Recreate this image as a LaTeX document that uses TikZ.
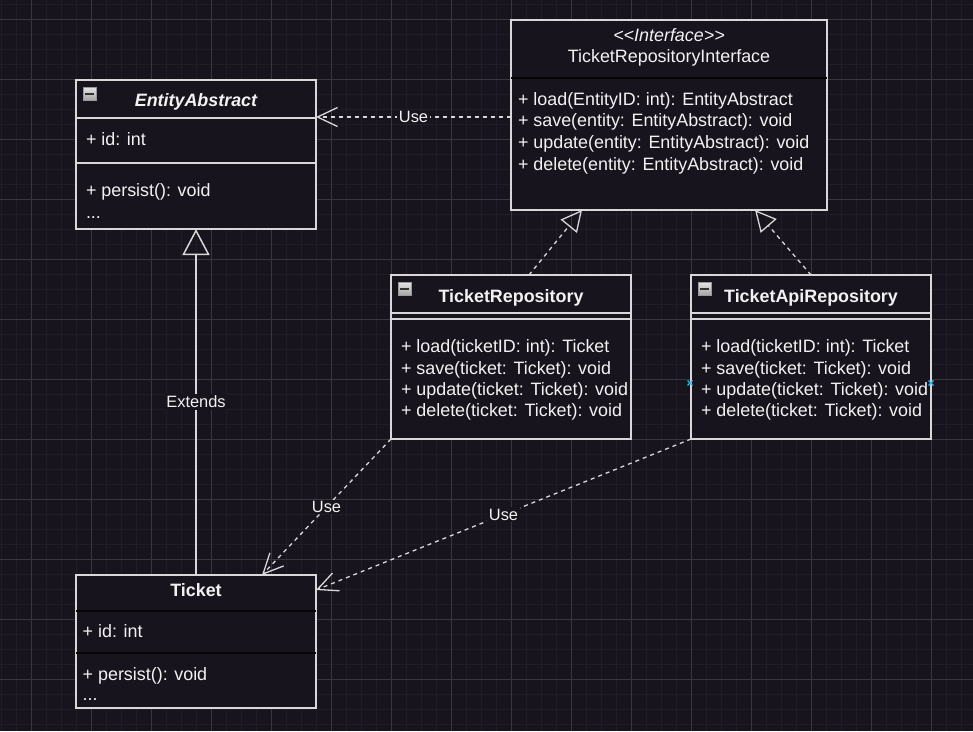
\documentclass[tikz,border=0pt]{standalone}
\usepackage{fontspec}
\setmainfont{Liberation Sans}
\usetikzlibrary{arrows.meta}
\definecolor{bg}{HTML}{18141D}
\definecolor{gridminor}{HTML}{211D26}
\definecolor{gridmajor}{HTML}{3A3640}
\definecolor{fg}{HTML}{F2F2F2}
\definecolor{ln}{HTML}{D8D8D8}
\definecolor{sepdark}{HTML}{050505}
\definecolor{sel}{HTML}{29B6F2}
\begin{document}
\begin{tikzpicture}[x=1pt,y=-1pt,
  every node/.style={font=\fontsize{17.9}{21}\selectfont, text=fg, inner sep=0pt, outer sep=0pt},
  classbox/.style={draw=ln, line width=1.5pt, fill=bg, anchor=north west},
  ctitle/.style={anchor=base, font=\fontsize{17.9}{21}\selectfont\bfseries},
  member/.style={anchor=base west},
  lightsep/.style={draw=ln, line width=1.5pt},
  darksep/.style={draw=sepdark, line width=2pt},
  elabel/.style={fill=bg, inner sep=1.5pt, font=\fontsize{16.4}{19}\selectfont},
  usearrow/.style={draw=ln, line width=1.3pt, dash pattern=on 4pt off 4pt,
    -{Straight Barb[length=20pt,width=19pt,line width=1.3pt]}},
  realize/.style={draw=ln, line width=1.3pt, dash pattern=on 4pt off 4pt,
    -{Triangle[open,length=21pt,width=21pt,line width=1.3pt]}},
  extends/.style={draw=ln, line width=1.5pt,
    -{Triangle[open,length=26pt,width=27pt,line width=1.5pt]}},
  minusicon/.style={draw=gray!80, line width=0.6pt, top color=gray!20, bottom color=gray!70}
]
% background and grid
\fill[bg] (0,0) rectangle (973,731);
\useasboundingbox (0,0) rectangle (973,731);
\foreach \i in {0,...,64} {\draw[gridminor, line width=1pt] ({1+15*\i},0) -- ({1+15*\i},731);}
\foreach \i in {0,...,48} {\draw[gridminor, line width=1pt] (0,{4+15*\i}) -- (973,{4+15*\i});}
\foreach \i in {0,...,15} {\draw[gridmajor, line width=1pt] ({31+60*\i},0) -- ({31+60*\i},731);}
\foreach \i in {0,...,11} {\draw[gridmajor, line width=1pt] (0,{19+60*\i}) -- (973,{19+60*\i});}

% ---- EntityAbstract
\node[classbox, minimum width=240pt, minimum height=149pt] (ea) at (76,80) {};
\draw[lightsep] ([yshift=-38pt]ea.north west) -- ([yshift=-38pt]ea.north east);
\draw[lightsep] ([yshift=-83pt]ea.north west) -- ([yshift=-83pt]ea.north east);
\shade[minusicon] (83,87) rectangle (96,100);
\fill[black!80] (85,92.5) rectangle (94,95);
\node[ctitle] (eaT) at (196,106.7) {\itshape EntityAbstract};
\node[member] (eaA) at (86,145.7) {+ id: int};
\node[member] (eaM) at (86,196.7) {+ persist(): void};
\node[member] (eaD) at (86,218) {...};

% ---- TicketRepositoryInterface
\node[classbox, minimum width=316pt, minimum height=190pt] (ir) at (511,20) {};
\draw[darksep] ([yshift=-58pt]ir.north west) -- ([yshift=-58pt]ir.north east);
\node[anchor=base] (irS) at (669,41.7) {\itshape {<}{<}Interface{>}{>}};
\node[anchor=base] (irT) at (669,62.7) {TicketRepositoryInterface};
\node[member] (ir1) at (518,105) {+ load(EntityID: int): EntityAbstract};
\node[member] (ir2) at (518,126) {+ save(entity: EntityAbstract): void};
\node[member] (ir3) at (518,148.3) {+ update(entity: EntityAbstract): void};
\node[member] (ir4) at (518,170) {+ delete(entity: EntityAbstract): void};

% ---- TicketRepository
\node[classbox, minimum width=240pt, minimum height=164pt] (tr) at (391,275) {};
\draw[lightsep] ([yshift=-38pt]tr.north west) -- ([yshift=-38pt]tr.north east);
\draw[lightsep] ([yshift=-44pt]tr.north west) -- ([yshift=-44pt]tr.north east);
\shade[minusicon] (398,282) rectangle (411,295);
\fill[black!80] (400,287.5) rectangle (409,290);
\node[ctitle] (trT) at (511,302.3) {TicketRepository};
\node[member] (tr1) at (401,352.7) {+ load(ticketID: int): Ticket};
\node[member] (tr2) at (401,374) {+ save(ticket: Ticket): void};
\node[member] (tr3) at (401,395.7) {+ update(ticket: Ticket): void};
\node[member] (tr4) at (401,416.7) {+ delete(ticket: Ticket): void};

% ---- TicketApiRepository
\node[classbox, minimum width=240pt, minimum height=164pt] (tar) at (691,275) {};
\draw[lightsep] ([yshift=-38pt]tar.north west) -- ([yshift=-38pt]tar.north east);
\draw[lightsep] ([yshift=-44pt]tar.north west) -- ([yshift=-44pt]tar.north east);
\shade[minusicon] (698,282) rectangle (711,295);
\fill[black!80] (700,287.5) rectangle (709,290);
\node[ctitle] (tarT) at (811,302.3) {TicketApiRepository};
\node[member] (tar1) at (701,352.7) {+ load(ticketID: int): Ticket};
\node[member] (tar2) at (701,374) {+ save(ticket: Ticket): void};
\node[member] (tar3) at (701,395.7) {+ update(ticket: Ticket): void};
\node[member] (tar4) at (701,416.7) {+ delete(ticket: Ticket): void};
\foreach \px in {690,931} {
  \draw[sel, line width=1.3pt] (\px-2.5,380.5) -- (\px+2.5,385.5) (\px-2.5,385.5) -- (\px+2.5,380.5);
}

% ---- Ticket
\node[classbox, minimum width=240pt, minimum height=133pt] (tk) at (76,575) {};
\draw[darksep] ([yshift=-36pt]tk.north west) -- ([yshift=-36pt]tk.north east);
\draw[darksep] ([yshift=-78pt]tk.north west) -- ([yshift=-78pt]tk.north east);
\node[ctitle] (tkT) at (196,596.7) {Ticket};
\node[member] (tkA) at (82.7,637.7) {+ id: int};
\node[member] (tkM) at (82.7,680) {+ persist(): void};
\node[member] (tkD) at (82.7,700.7) {...};

% ---- connectors
\draw[usearrow] ([yshift=-97pt]ir.north west) -- node[elabel] (lbl1) {Use} ([yshift=-37pt]ea.north east);
\draw[extends] (tk.north) -- node[elabel] (lbl2) {Extends} (ea.south);
\draw[realize] ([xshift=138pt]tr.north west) -- ([xshift=71pt]ir.south west);
\draw[realize] ([xshift=120pt]tar.north west) -- ([xshift=244pt]ir.south west);
\draw[usearrow] (tr.south west) -- node[elabel] (lbl3) {Use} ([xshift=186pt]tk.north west);
\draw[usearrow] (tar.south west) -- node[elabel] (lbl4) {Use} ([yshift=-15pt]tk.north east);
\end{tikzpicture}
\end{document}
